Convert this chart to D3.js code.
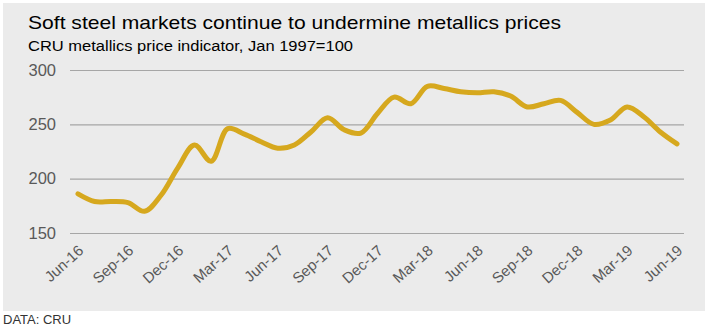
<!DOCTYPE html>
<html>
<head>
<meta charset="utf-8">
<script src="https://cdn.jsdelivr.net/npm/d3@7"></script>
<style>
  body { margin: 0; background: #fff; }
  svg { display: block; font-family: "Liberation Sans", Arial, sans-serif; }
</style>
</head>
<body>
<div id="chart"></div>
<script>
// monthly CRU metallics price indicator, Jun 2016 - Jun 2019
var months = d3.range(0, 37);
var values = [186, 179, 179, 178, 170, 185, 210, 231, 216, 246, 241, 234, 228,
              231, 243, 256, 245, 242, 260, 275, 269, 285, 283, 280, 279,
              280, 276, 266, 269, 272, 261, 250, 254, 266, 257, 243, 232];
var tickLabels = ["Jun-16", "Sep-16", "Dec-16", "Mar-17", "Jun-17", "Sep-17", "Dec-17",
                  "Mar-18", "Jun-18", "Sep-18", "Dec-18", "Mar-19", "Jun-19"];
var yTicks = [150, 200, 250, 300];

var chart = {
    w: 714,
    h: 328,
    left: 78,
    right: 677,
    top: 70,
    bottom: 233,
    draw: function (selector) {
        var svg = d3.select(selector).append('svg')
            .attr('width', this.w).attr('height', this.h);

        svg.append('rect')
            .attr('x', 3).attr('y', 3)
            .attr('width', 702).attr('height', 308)
            .attr('fill', '#ebebeb');

        // reference text is a little wider than Liberation Sans, so stretch it
        svg.append('text').attr('x', 28).attr('y', 29)
            .attr('font-size', 19).attr('fill', '#000')
            .attr('textLength', 533).attr('lengthAdjust', 'spacingAndGlyphs')
            .text('Soft steel markets continue to undermine metallics prices');
        svg.append('text').attr('x', 28).attr('y', 51)
            .attr('font-size', 15.5).attr('fill', '#000')
            .attr('textLength', 325).attr('lengthAdjust', 'spacingAndGlyphs')
            .text('CRU metallics price indicator, Jan 1997=100');

        var x = d3.scaleLinear().domain([0, 36]).range([this.left, this.right]);
        var y = d3.scaleLinear().domain([150, 300]).range([this.bottom, this.top]);

        // gridlines
        var yAxis = d3.axisLeft(y).tickValues(yTicks).tickSize(-614).tickPadding(14);
        var gy = svg.append('g').attr('transform', 'translate(70,0)').call(yAxis);
        gy.select('.domain').remove();
        gy.selectAll('.tick line').attr('stroke', '#a6a6a6').attr('stroke-width', 1.2);
        gy.selectAll('.tick text').attr('font-size', 16.5).attr('fill', '#595959')
            .attr('font-family', '"Liberation Sans", Arial, sans-serif');

        // rotated quarterly labels
        var xAxis = d3.axisBottom(x).tickValues(d3.range(0, 37, 3))
            .tickFormat(function (d, i) { return tickLabels[i]; }).tickSize(0);
        var gx = svg.append('g').attr('transform', 'translate(0,' + this.bottom + ')').call(xAxis);
        gx.select('.domain').remove();
        gx.selectAll('.tick text')
            .attr('font-size', 15).attr('fill', '#595959')
            .attr('font-family', '"Liberation Sans", Arial, sans-serif')
            .attr('text-anchor', 'end')
            .attr('dy', 0).attr('y', 0)
            .attr('transform', 'translate(6,19) rotate(-42)');

        var line = d3.line()
            .x(function (d) { return x(d); })
            .y(function (d) { return y(values[d]); })
            .curve(d3.curveCatmullRom.alpha(0.5));

        svg.append('path').datum(months)
            .attr('d', line)
            .attr('fill', 'none')
            .attr('stroke', '#d6a81e')
            .attr('stroke-width', 5)
            .attr('stroke-linecap', 'round')
            .attr('stroke-linejoin', 'round');

        svg.append('text').attr('x', 3).attr('y', 324)
            .attr('font-size', 13).attr('fill', '#333')
            .text('DATA: CRU');
    }
};

chart.draw('#chart');
</script>
</body>
</html>
